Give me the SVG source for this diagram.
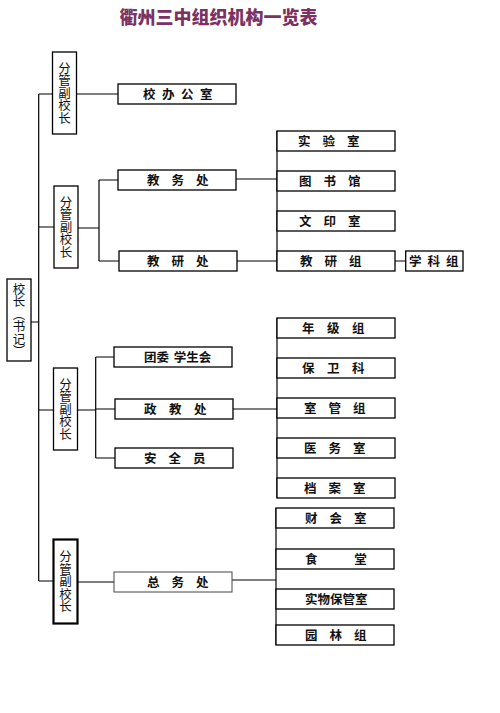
<svg xmlns="http://www.w3.org/2000/svg" width="500" height="713" viewBox="0 0 500 713">
<style>
.box{fill:#fff;stroke:#000;stroke-width:1.3}
.ln{stroke:#000;stroke-width:1.2;fill:none}
.t{font-family:"Noto Sans CJK SC","Noto Sans CJK TC",sans-serif;font-size:12.5px;font-weight:bold;fill:#111}
.v{font-family:"Noto Sans CJK SC","Noto Sans CJK TC",sans-serif;font-size:12.5px;fill:#111;writing-mode:vertical-rl;text-anchor:middle}
.title{font-family:"Noto Sans CJK SC","Noto Sans CJK TC",sans-serif;font-size:18px;font-weight:900;fill:#7b3262;text-anchor:middle}
</style>
<rect width="500" height="713" fill="#fff"/>
<text class="title" x="218.5" y="24">衢州三中组织机构一览表</text>

<g id="connectors">
<path class="ln" d="M38.7,94 V581"/>
<path class="ln" d="M38.7,94 H52.5 M38.7,227 H54 M31,322 H38.7 M38.7,410 H53.5 M38.7,581 H53.5"/>
<path class="ln" d="M76.5,94 H118"/>
<path class="ln" d="M78,228 H99 M99,180 V261 M99,180 H118 M99,261 H119"/>
<path class="ln" d="M236,179 H277 M237,261 H277 M277,131 V271 M395,261 H405.7"/>
<path class="ln" d="M77.5,410 H95.7 M95.7,357 V458 M95.7,357 H114 M95.7,409 H115 M95.7,458 H115"/>
<path class="ln" d="M233,409 H277 M277,318 V498"/>
<path class="ln" d="M77.5,582 H114 M232,580 H276 M276,508 V645"/>
</g>

<g id="principal"><rect class="box" x="7" y="279" width="24" height="82"/><text class="v" x="19" y="320">校长（书记）</text></g>

<g id="vp1"><rect class="box" x="52.5" y="52" width="24" height="82"/><text class="v" x="64.5" y="93">分管副校长</text></g>
<g id="vp2"><rect class="box" x="54" y="186" width="24" height="82"/><text class="v" x="66" y="227">分管副校长</text></g>
<g id="vp3"><rect class="box" x="53.5" y="368" width="24" height="82"/><text class="v" x="65.5" y="409">分管副校长</text></g>
<g id="vp4"><rect class="box" x="53.5" y="539.5" width="24" height="84" style="stroke-width:2.2"/><text class="v" x="65.5" y="581.5">分管副校长</text></g>

<g id="office"><rect class="box" x="118" y="84" width="118" height="20"/><text class="t" x="143" y="98.5" letter-spacing="6.5">校办公室</text></g>
<g id="jiaowu"><rect class="box" x="118" y="170" width="118" height="20"/><text class="t" x="147" y="184.5" letter-spacing="12">教务处</text></g>
<g id="jiaoyan"><rect class="box" x="119" y="251" width="118" height="20"/><text class="t" x="147" y="265.5" letter-spacing="12">教研处</text></g>

<g id="lab"><rect class="box" x="277" y="131" width="118" height="20"/><text class="t" x="298" y="145.5" letter-spacing="12">实验室</text></g>
<g id="library"><rect class="box" x="277" y="171" width="118" height="20"/><text class="t" x="299" y="185.5" letter-spacing="12">图书馆</text></g>
<g id="print"><rect class="box" x="277" y="211" width="118" height="20"/><text class="t" x="299" y="225.5" letter-spacing="12">文印室</text></g>
<g id="jyz"><rect class="box" x="277" y="251" width="118" height="20"/><text class="t" x="300" y="265.5" letter-spacing="12">教研组</text></g>
<g id="subject"><rect class="box" x="405.7" y="251" width="57.3" height="20"/><text class="t" x="409" y="265.5" letter-spacing="6">学科组</text></g>

<g id="league"><rect class="box" x="114" y="347" width="118" height="20"/><text class="t" x="144" y="361.5" word-spacing="2">团委 学生会</text></g>
<g id="zhengjiao"><rect class="box" x="115" y="399" width="118" height="20"/><text class="t" x="144" y="413.5" letter-spacing="12.5">政教处</text></g>
<g id="safety"><rect class="box" x="115" y="448" width="118" height="20"/><text class="t" x="144" y="462.5" letter-spacing="12">安全员</text></g>

<g id="grade"><rect class="box" x="277" y="318" width="118" height="20"/><text class="t" x="302" y="332.5" letter-spacing="12.5">年级组</text></g>
<g id="security"><rect class="box" x="277" y="358" width="118" height="20"/><text class="t" x="302" y="372.5" letter-spacing="12.5">保卫科</text></g>
<g id="dorm"><rect class="box" x="277" y="398" width="118" height="20"/><text class="t" x="304" y="412.5" letter-spacing="12">室管组</text></g>
<g id="clinic"><rect class="box" x="277" y="438" width="118" height="20"/><text class="t" x="304" y="452.5" letter-spacing="12">医务室</text></g>
<g id="archive"><rect class="box" x="277" y="478" width="118" height="20"/><text class="t" x="304" y="492.5" letter-spacing="12">档案室</text></g>

<g id="zongwu"><rect class="box" x="114" y="572" width="118" height="20" style="stroke:#444;stroke-width:1"/><text class="t" x="147" y="586.5" letter-spacing="12">总务处</text></g>

<g id="finance"><rect class="box" x="276" y="508" width="118" height="20"/><text class="t" x="305" y="522.5" letter-spacing="12">财会室</text></g>
<g id="canteen"><rect class="box" x="276" y="549" width="118" height="20"/><text class="t" x="305" y="563.5" word-spacing="34">食 堂</text></g>
<g id="storage"><rect class="box" x="276" y="589" width="118" height="20"/><text class="t" x="305" y="603.5">实物保管室</text></g>
<g id="garden"><rect class="box" x="276" y="625" width="118" height="20"/><text class="t" x="305" y="639.5" letter-spacing="12">园林组</text></g>
</svg>
